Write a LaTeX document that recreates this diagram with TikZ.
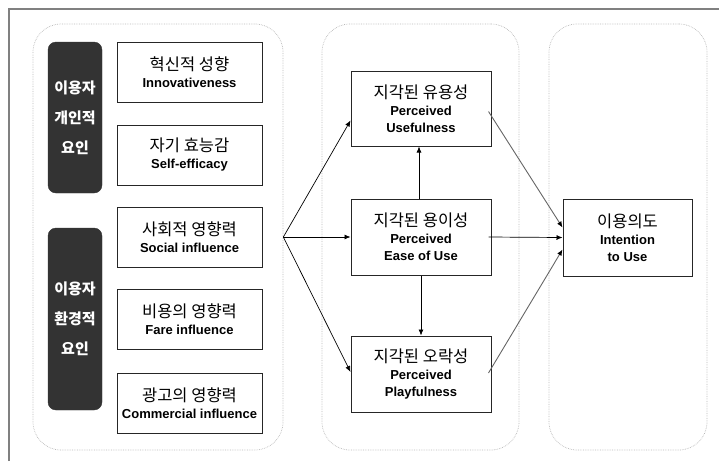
\documentclass[tikz,border=0pt]{standalone}
\usepackage{fontspec}
\usetikzlibrary{arrows.meta}
\newfontfamily\kr{Noto Sans CJK KR}
\newfontfamily\lat{Liberation Sans}
\newcommand\krl[1]{{\kr\mdseries\fontsize{16.5}{18}\selectfont #1}}
\begin{document}
\begin{tikzpicture}[x=1pt,y=-1pt,
  panel/.style={draw=gray!55, densely dotted, rounded corners=28pt, line width=0.7pt, inner sep=0pt},
  dark/.style={fill=black!80, draw=black!80, rounded corners=8pt, text=white, font=\kr\bfseries\fontsize{15}{30}\selectfont, align=center, inner sep=0pt},
  wbox/.style={draw=black!85, line width=1pt, fill=white, align=center, inner sep=0pt, font=\lat\bfseries\fontsize{13}{17}\selectfont},
  arr/.style={-{Latex[length=6pt,width=5pt,color=black]}, line width=0.7pt},
  garr/.style={arr, draw=black!60, line width=0.9pt},
]
\useasboundingbox (0,0) rectangle (719,461);
\draw[gray, line width=2pt] (9,461) -- (9,9) -- (719,9);
% panels
\node[panel, minimum width=250pt, minimum height=426pt] (p1) at (158,237) {};
\node[panel, minimum width=197pt, minimum height=426pt] (p2) at (420.5,237) {};
\node[panel, minimum width=158pt, minimum height=426pt] (p3) at (628,237) {};
% dark boxes
\node[dark, minimum width=54pt, minimum height=151pt] (da) at (75,117.5) {이용자\\개인적\\요인};
\node[dark, minimum width=54pt, minimum height=182pt] (db) at (75,319) {이용자\\환경적\\요인};
% panel 1 boxes
\node[wbox, minimum width=145pt, minimum height=60pt] (inn) at (189.5,72) {\krl{혁신적 성향}\\Innovativeness};
\node[wbox, minimum width=145pt, minimum height=60pt] (self) at (189.5,155) {\krl{자기 효능감}\\Self-efficacy};
\node[wbox, minimum width=145pt, minimum height=60pt] (soc) at (189.5,237) {\krl{사회적 영향력}\\Social influence};
\node[wbox, minimum width=145pt, minimum height=60pt] (fare) at (189.5,319.5) {\krl{비용의 영향력}\\Fare influence};
\node[wbox, minimum width=145pt, minimum height=60pt] (com) at (189.5,403) {\krl{광고의 영향력}\\Commercial influence};
% panel 2 boxes
\node[wbox, minimum width=140pt, minimum height=75pt] (pu) at (421,108.5) {\krl{지각된 유용성}\\Perceived\\Usefulness};
\node[wbox, minimum width=140pt, minimum height=76pt] (peou) at (421,237) {\krl{지각된 용이성}\\Perceived\\Ease of Use};
\node[wbox, minimum width=140pt, minimum height=76pt] (pp) at (421,374) {\krl{지각된 오락성}\\Perceived\\Playfulness};
% panel 3 box
\node[wbox, minimum width=129pt, minimum height=77pt] (int) at (627.5,237.5) {\krl{이용의도}\\Intention\\to Use};
% connectors
\coordinate (src) at (p1.east);
\draw[arr] (src) -- ([shift={(0,12)}]pu.west);
\draw[arr] (src) -- (peou.west);
\draw[arr] (src) -- ([shift={(0,-2)}]pp.west);
\draw[arr] ([xshift=-2pt]peou.north) -- ([xshift=-2pt]pu.south);
\draw[arr] (peou.south) -- (pp.north);
\draw[garr] ([shift={(-3,3)}]pu.east) -- ([shift={(0,-10)}]int.west);
\draw[arr] ([xshift=-3pt]peou.east) -- (int.west);
\draw[garr] ([shift={(-3,-1)}]pp.east) -- ([shift={(0,12)}]int.west);
\end{tikzpicture}
\end{document}
